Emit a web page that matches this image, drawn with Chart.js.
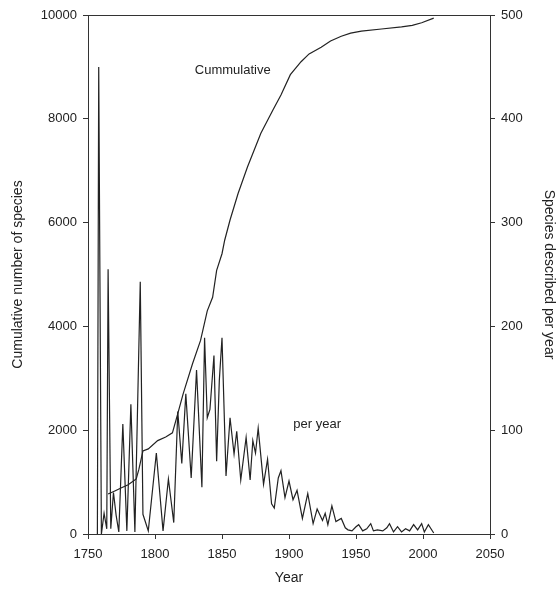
<!DOCTYPE html>
<html>
<head>
<meta charset="utf-8">
<script src="https://cdn.jsdelivr.net/npm/chart.js@4.4.1/dist/chart.umd.min.js"></script>
<style>
  body { margin: 0; background: #fff; }
  canvas { display: block; }
</style>
</head>
<body>
<canvas id="chart" width="556" height="590"></canvas>
<script>
// species described per year (right axis)
const perYearYears = [1757, 1758, 1760, 1762, 1764, 1765, 1767, 1769, 1771, 1773, 1776, 1779, 1782, 1785, 1789, 1791, 1795,
  1801, 1806, 1810, 1814, 1817, 1820, 1823, 1827, 1831, 1835, 1837, 1839, 1841, 1844, 1846, 1848, 1850,
  1853, 1856, 1859, 1861, 1864, 1868, 1871, 1873, 1875, 1877, 1881, 1884, 1887, 1889, 1892, 1894, 1897, 1900,
  1903, 1906, 1910, 1914, 1918, 1921, 1925, 1927, 1929, 1932, 1935, 1939, 1942, 1944, 1947, 1950, 1952, 1955,
  1958, 1961, 1963, 1966, 1970, 1973, 1975, 1978, 1981, 1984, 1987, 1990, 1993, 1996, 1999, 2001, 2004, 2008];
const perYearValues = [0, 450, 0, 20, 5, 255, 5, 40, 18, 2, 106, 3, 125, 2, 243, 19, 3,
  78, 3, 53, 11, 118, 68, 135, 54, 158, 45, 189, 112, 120, 172, 70, 148, 189,
  56, 112, 77, 99, 52, 93, 52, 90, 78, 102, 48, 72, 29, 25, 54, 61, 35, 51,
  33, 42, 15, 39, 10, 24, 13, 20, 9, 27, 12, 15, 6, 4, 3, 7, 9, 3,
  5, 10, 3, 4, 3, 6, 10, 2, 7, 2, 5, 3, 9, 4, 10, 2, 9, 1];

// cumulative number of species (left axis)
const cumYears = [1765, 1770, 1775, 1780, 1786, 1788, 1791, 1795, 1802, 1808, 1813, 1817, 1821, 1828, 1834, 1839,
  1843, 1846, 1850, 1852, 1856, 1862, 1869, 1879, 1888, 1894, 1901, 1909, 1915, 1924, 1931, 1939, 1946,
  1954, 1969, 1984, 1992, 1999, 2008];
const cumValues = [770, 830, 890, 950, 1060, 1250, 1600, 1640, 1800, 1870, 1950, 2320, 2700, 3280, 3730, 4300,
  4560, 5080, 5400, 5660, 6050, 6560, 7070, 7720, 8170, 8460, 8850, 9100, 9250, 9380, 9500, 9590, 9650,
  9690, 9730, 9770, 9800, 9850, 9940];

// in-plot labels, placed in data units
const notes = [
  { text: 'Cummulative', x: 1858, y: 8940, axis: 'y' },
  { text: 'per year', x: 1921, y: 106, axis: 'y1' }
];

const ink = '#222';
const font = 'Liberation Sans, Arial, sans-serif';

const noteLabels = {
  id: 'noteLabels',
  afterDatasetsDraw(chart) {
    const ctx = chart.ctx;
    const a = chart.chartArea;
    ctx.save();
    // top edge of the frame
    ctx.strokeStyle = '#333';
    ctx.lineWidth = 1;
    ctx.beginPath();
    ctx.moveTo(a.left, a.top + 0.5);
    ctx.lineTo(a.right, a.top + 0.5);
    ctx.stroke();
    ctx.fillStyle = ink;
    ctx.font = '13px ' + font;
    ctx.textAlign = 'center';
    ctx.textBaseline = 'middle';
    notes.forEach(n => {
      ctx.fillText(n.text, chart.scales.x.getPixelForValue(n.x), chart.scales[n.axis].getPixelForValue(n.y));
    });
    ctx.restore();
  }
};

const ctx = document.getElementById('chart').getContext('2d');
new Chart(ctx, {
  type: 'line',
  data: {
    datasets: [{
      label: 'Cumulative',
      data: cumYears.map((x, i) => ({ x: x, y: cumValues[i] })),
      yAxisID: 'y',
      borderColor: ink,
      borderWidth: 1.2,
      pointRadius: 0,
      tension: 0
    }, {
      label: 'per year',
      data: perYearYears.map((x, i) => ({ x: x, y: perYearValues[i] })),
      yAxisID: 'y1',
      borderColor: ink,
      borderWidth: 1.2,
      pointRadius: 0,
      tension: 0
    }]
  },
  options: {
    responsive: false,
    animation: false,
    layout: { padding: { top: 15, left: 0, right: 0, bottom: 0 } },
    plugins: { legend: { display: false }, tooltip: { enabled: false } },
    scales: {
      x: {
        type: 'linear',
        min: 1750, max: 2050,
        afterFit: s => { s.height = 56; },
        grid: { drawOnChartArea: false, tickLength: 5, color: '#333' },
        border: { color: '#333', width: 1 },
        ticks: { stepSize: 50, padding: 8, color: ink, font: { family: font, size: 13 }, callback: v => String(v), maxRotation: 0 },
        title: { display: true, text: 'Year', color: ink, font: { family: font, size: 14, lineHeight: 1 }, padding: { top: 0, bottom: 5 } }
      },
      y: {
        position: 'left',
        min: 0, max: 10000,
        afterFit: s => { s.width = 88; },
        grid: { drawOnChartArea: false, tickLength: 5, color: '#333' },
        border: { color: '#333', width: 1 },
        ticks: { stepSize: 2000, padding: 6, color: ink, font: { family: font, size: 13 }, callback: v => String(v) },
        title: { display: true, text: 'Cumulative number of species', color: ink, font: { family: font, size: 14, lineHeight: 1 }, padding: { top: 11, bottom: 0 } }
      },
      y1: {
        position: 'right',
        min: 0, max: 500,
        afterFit: s => { s.width = 66; },
        grid: { drawOnChartArea: false, tickLength: 5, color: '#333' },
        border: { color: '#333', width: 1 },
        ticks: { stepSize: 100, padding: 6, color: ink, font: { family: font, size: 13 }, callback: v => String(v) },
        title: { display: true, text: 'Species described per year', color: ink, font: { family: font, size: 14, lineHeight: 1 }, padding: { top: 0, bottom: 0 } }
      }
    }
  },
  plugins: [noteLabels]
});
</script>
</body>
</html>
